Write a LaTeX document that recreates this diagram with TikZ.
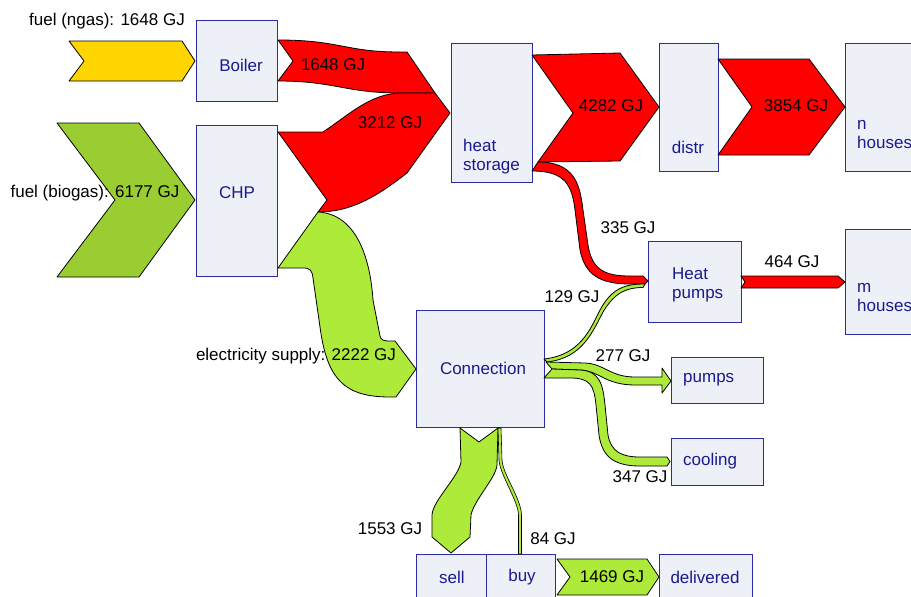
\documentclass[tikz,border=0pt]{standalone}
\usepackage{fontspec}
\setmainfont{Liberation Sans}
\definecolor{boxline}{RGB}{43,43,166}
\definecolor{boxfill}{RGB}{238,240,248}
\definecolor{boxtext}{RGB}{26,26,142}
\definecolor{ngas}{RGB}{255,213,0}
\definecolor{biogas}{RGB}{154,205,50}
\definecolor{elec}{RGB}{174,234,58}
\definecolor{heat}{RGB}{255,0,0}
\begin{document}
\begin{tikzpicture}[x=1pt, y=-1pt,
		box/.style={draw=boxline, fill=boxfill, line width=1.2pt, inner sep=0pt, anchor=north west},
		boxlabel/.style={text=boxtext, inner sep=0pt, font=\fontsize{17}{19}\selectfont, align=left},
		flow/.style={draw=black, line width=0.8pt, line join=round},
		amount/.style={text=black, inner sep=0pt, font=\fontsize{17}{19}\selectfont}]
		\clip (0, 0) rectangle (911, 597);

		\node [box, minimum width=81pt, minimum height=81pt]	(boiler) at (196, 20) {};
		\node [box, minimum width=81pt, minimum height=151pt]	(chp) at (196, 125) {};
		\node [box, minimum width=81pt, minimum height=139pt]	(storage) at (451, 43) {};
		\node [box, minimum width=59pt, minimum height=128pt]	(distr) at (659, 43) {};
		\node [box, minimum width=90pt, minimum height=128pt]	(nhouses) at (845, 43) {};
		\node [box, minimum width=93pt, minimum height=81pt]	(heatpumps) at (648, 241) {};
		\node [box, minimum width=90pt, minimum height=105pt]	(mhouses) at (845, 229) {};
		\node [box, minimum width=128pt, minimum height=117pt]	(connection) at (416, 310) {};
		\node [box, minimum width=92pt, minimum height=46pt]	(pumps) at (671, 357) {};
		\node [box, minimum width=92pt, minimum height=47pt]	(cooling) at (671, 438) {};
		\node [box, minimum width=70pt, minimum height=56pt]	(sell) at (416, 554) {};
		\node [box, minimum width=69pt, minimum height=56pt]	(buy) at (486, 554) {};
		\node [box, minimum width=93pt, minimum height=56pt]	(delivered) at (659, 554) {};

		\draw [flow, fill=ngas]	(69, 41) -- (182, 41) -- (195, 61) -- (182, 81) -- (69, 81) -- (84, 61) -- cycle;
		\draw [flow, fill=biogas]	(57, 123) -- (139, 123) -- (195, 200) -- (139, 277) -- (57, 277) -- (115, 200) -- cycle;

		\draw [flow, fill=heat]	(278, 40) .. controls (340, 40) and (345, 52) .. (400, 52) -- (407, 52) -- (435, 93) -- (400, 93)
					.. controls (345, 93) and (335, 81) .. (278, 81) -- (293, 61) -- cycle;
		\draw [flow, fill=heat]	(278, 132) -- (323, 132) .. controls (350, 114) and (370, 94) .. (400, 93) -- (435, 93) -- (450, 113)
					-- (407, 173) .. controls (375, 198) and (350, 212) .. (318, 212) -- (327, 200) -- cycle;
		\draw [flow, fill=elec]	(318, 212) .. controls (355, 214) and (370, 255) .. (373, 300) -- (380, 336)
					.. controls (381, 340) and (383, 341) .. (390, 341) -- (395, 341) -- (416, 369) -- (396, 397) -- (390, 397)
					.. controls (345, 397) and (327, 380) .. (320, 327) -- (313, 278)
					.. controls (312, 270) and (310, 268) .. (303, 268) -- (278, 268) -- cycle;

		\draw [flow, fill=heat]	(532, 55) -- (620, 53) -- (659, 107) -- (620, 161) -- (538, 162) -- (573, 113) -- cycle;
		\draw [flow, fill=heat]	(538, 162) .. controls (575, 162) and (580, 185) .. (583, 210) -- (588, 245)
					.. controls (592, 270) and (605, 276) .. (630, 276) -- (643, 276) -- (648, 281) -- (645, 284) -- (630, 284)
					.. controls (600, 284) and (585, 275) .. (580, 250) -- (575, 210)
					.. controls (572, 185) and (565, 171) .. (532, 171) -- cycle;
		\draw [flow, fill=heat]	(718, 59) -- (809, 59) -- (845, 107) -- (809, 155) -- (718, 155) -- (752, 107) -- cycle;
		\draw [flow, fill=heat]	(741, 276) -- (838, 276) -- (845, 282) -- (838, 288) -- (741, 288) -- (745, 282) -- cycle;

		\draw [flow, fill=elec]	(544, 359) .. controls (580, 355) and (590, 330) .. (600, 310) .. controls (612, 288) and (625, 284) .. (645, 284)
					-- (643, 287.5) .. controls (627, 287.5) and (615, 292) .. (603, 312) .. controls (592, 333) and (582, 358) .. (547, 362) -- cycle;
		\draw [flow, fill=elec]	(546, 362) -- (585, 363) .. controls (605, 364) and (610, 377) .. (635, 377) -- (662, 377) -- (662, 368)
					-- (671, 381) -- (662, 393) -- (662, 385) -- (635, 385) .. controls (605, 385) and (600, 371) .. (580, 370) -- (552, 369) -- cycle;
		\draw [flow, fill=elec]	(552, 369) -- (580, 370) .. controls (600, 371) and (603, 385) .. (605, 405) -- (608, 435)
					.. controls (611, 452) and (622, 457) .. (640, 457) -- (667, 457) -- (670, 461.5) -- (667, 466) -- (640, 466)
					.. controls (612, 466) and (602, 455) .. (599, 435) -- (596, 405) .. controls (594, 385) and (590, 378) .. (570, 378)
					-- (544, 378) -- cycle;

		\draw [flow, fill=elec]	(460, 428) -- (479, 442) -- (498, 428) -- (497, 465) .. controls (496, 478) and (474, 500) .. (471, 515)
					-- (470, 537) -- (451, 553) -- (432, 537) -- (432, 515) .. controls (433, 500) and (458, 478) .. (461, 462) -- cycle;
		\draw [flow, fill=elec, line width=0.6pt]	(498, 428) -- (499, 460) .. controls (500, 475) and (518, 500) .. (518.5, 515) -- (518.5, 554)
					-- (521.5, 554) -- (521.5, 515) .. controls (521, 498) and (503, 475) .. (502, 460) -- (501, 428) -- cycle;
		\draw [flow, fill=elec]	(557, 559) -- (647, 559) -- (659, 577) -- (647, 595) -- (557, 595) -- (570, 577) -- cycle;

		\node [boxlabel]	(boilertext) at (241, 65) {Boiler};
		\node [boxlabel]	(chptext) at (237, 193) {CHP};
		\node [boxlabel, anchor=west]	(storagetext) at (463, 157) {heat\\storage};
		\node [boxlabel]	(distrtext) at (688, 147) {distr};
		\node [boxlabel, anchor=west]	(nhousestext) at (857, 134.5) {n\\houses};
		\node [boxlabel, anchor=west]	(heatpumpstext) at (672, 284.5) {Heat\\pumps};
		\node [boxlabel, anchor=west]	(mhousestext) at (857, 297.5) {m\\houses};
		\node [boxlabel]	(connectiontext) at (483, 368) {Connection};
		\node [boxlabel, anchor=west]	(pumpstext) at (683, 380) {pumps};
		\node [boxlabel, anchor=west]	(coolingtext) at (683, 461) {cooling};
		\node [boxlabel]	(selltext) at (452, 577) {sell};
		\node [boxlabel]	(buytext) at (522, 577) {buy};
		\node [boxlabel]	(deliveredtext) at (705, 577) {delivered};

		\node [amount]	(ngasin) at (107, 21) {fuel (ngas): 1648 GJ};
		\node [amount]	(biogasin) at (95, 193) {fuel (biogas): 6177 GJ};
		\node [amount]	(boilerout) at (333, 65) {1648 GJ};
		\node [amount]	(chpheat) at (390, 123) {3212 GJ};
		\node [amount]	(storageout) at (611, 106) {4282 GJ};
		\node [amount]	(distrout) at (796, 106) {3854 GJ};
		\node [amount]	(hpheat) at (628, 228) {335 GJ};
		\node [amount]	(hpout) at (792, 262) {464 GJ};
		\node [amount]	(hpelec) at (572, 297) {129 GJ};
		\node [amount]	(pumpselec) at (623, 356) {277 GJ};
		\node [amount]	(coolingelec) at (640, 477) {347 GJ};
		\node [amount]	(chpelec) at (296, 356) {electricity supply: 2222 GJ};
		\node [amount]	(sold) at (390, 529) {1553 GJ};
		\node [amount]	(bought) at (553, 539) {84 GJ};
		\node [amount]	(deliveredin) at (612, 577) {1469 GJ};
\end{tikzpicture}
\end{document}
